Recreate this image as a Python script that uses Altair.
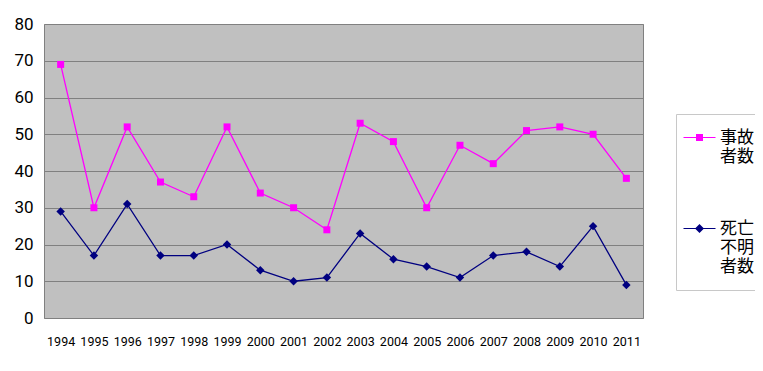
import altair as alt
import pandas as pd

years = ["1994", "1995", "1996", "1997", "1998", "1999", "2000", "2001", "2002",
         "2003", "2004", "2005", "2006", "2007", "2008", "2009", "2010", "2011"]
accidents = [69, 30, 52, 37, 33, 52, 34, 30, 24, 53, 48, 30, 47, 42, 51, 52, 50, 38]
dead_missing = [29, 17, 31, 17, 17, 20, 13, 10, 11, 23, 16, 14, 11, 17, 18, 14, 25, 9]
series_names = ["事故者数", "死亡・不明者数"]
colors = ["#FF00FF", "#000080"]
y_ticks = [0, 10, 20, 30, 40, 50, 60, 70, 80]

rows = []
for i, yr in enumerate(years):
    rows.append({"year": yr, "series": series_names[0], "value": accidents[i]})
    rows.append({"year": yr, "series": series_names[1], "value": dead_missing[i]})
df = pd.DataFrame(rows)

num_font = "Roboto"
jp_font = "Noto Sans CJK JP"

x_enc = alt.X("year:O", sort=years,
              scale=alt.Scale(type="point", padding=0.5),
              axis=alt.Axis(title=None, labelAngle=0, ticks=False, domain=False,
                            labelFont=num_font, labelFontSize=12.5, labelColor="#000000",
                            labelPadding=17))
y_enc = alt.Y("value:Q", scale=alt.Scale(domain=[0, 80], nice=False),
              axis=alt.Axis(title=None, values=y_ticks, ticks=False, domain=False,
                            grid=True, gridColor="#808080", gridWidth=1,
                            labelFont=num_font, labelFontSize=17, labelColor="#000000",
                            labelPadding=11))

cscale = alt.Scale(domain=series_names, range=colors)

base = alt.Chart(df)

lines = base.mark_line(strokeWidth=1.3).encode(
    x=x_enc, y=y_enc,
    color=alt.Color("series:N", scale=cscale, legend=None),
    detail="series:N",
)

points = base.mark_point(filled=True, opacity=1).encode(
    x=x_enc, y=y_enc,
    color=alt.Color("series:N", scale=cscale, legend=None),
    shape=alt.Shape("series:N", scale=alt.Scale(domain=series_names, range=["square", "diamond"]), legend=None),
    size=alt.Size("series:N", scale=alt.Scale(domain=series_names, range=[49, 72]), legend=None),
)

sq_path = "M-3.2,-0.1H3.2V0.1H-3.2Z M-0.7,-0.7H0.7V0.7H-0.7Z"
dia_path = "M-3.2,-0.1H3.2V0.1H-3.2Z M0,-0.9L0.9,0L0,0.9L-0.9,0Z"

label_expr = ("datum.label == '事故者数' ? ['事故', '者数'] : "
              "['死亡・', '不明', '者数']")

def make_legend():
    return alt.Legend(
        title=None, orient="none", legendX=632, legendY=90,
        labelExpr=label_expr, labelFont=jp_font, labelFontSize=17,
        labelColor="#000000", labelBaseline="middle", labelLimit=300,
        symbolSize=100, symbolOffset=0, labelOffset=12, symbolOpacity=1,
        symbolStrokeWidth=0, padding=15, fillColor="#ffffff",
        strokeColor="#c8c8c8", rowPadding=54,
    )

legend_layer = base.mark_point(filled=True, opacity=0).encode(
    x=x_enc, y=y_enc,
    color=alt.Color("series:N", scale=cscale, legend=make_legend()),
    shape=alt.Shape("series:N", scale=alt.Scale(domain=series_names, range=[sq_path, dia_path]),
                    legend=make_legend()),
)

chart = alt.layer(lines, points, legend_layer).resolve_scale(
    color="independent", shape="independent", size="independent"
).properties(
    width=599, height=294,
    autosize=alt.AutoSizeParams(type="none"),
    padding={"left": 36, "top": 16, "right": 112, "bottom": 40},
    background="#ffffff",
).configure_view(
    fill="#C0C0C0", stroke="#808080", strokeWidth=1
)

chart.save("out.html", embed_options={"renderer": "svg", "actions": False})
